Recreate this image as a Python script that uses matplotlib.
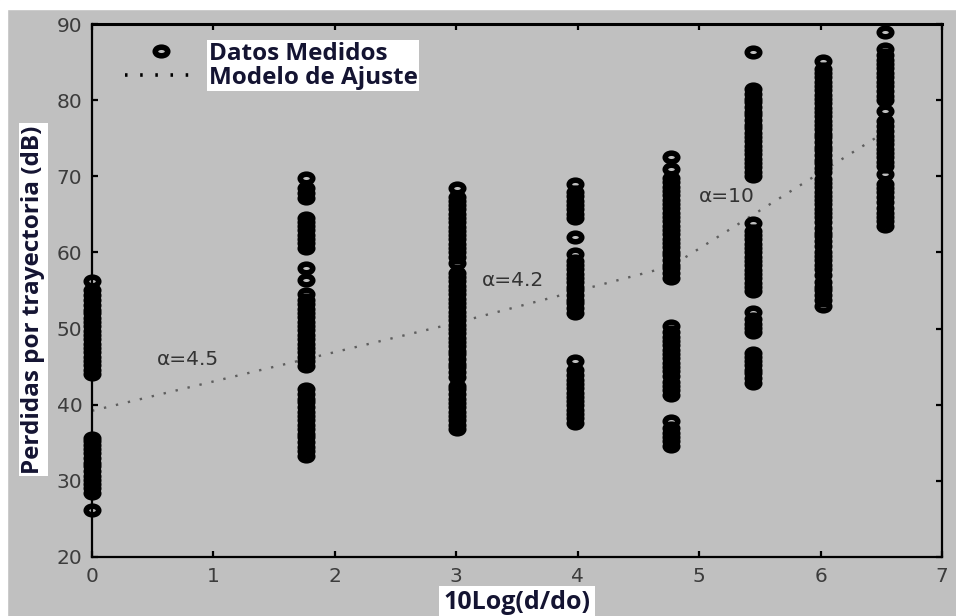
import matplotlib
matplotlib.use('Agg')
import matplotlib.pyplot as plt
from matplotlib.path import Path
from matplotlib.lines import Line2D
from matplotlib.patches import Rectangle
from matplotlib.transforms import Bbox

# distancia normalizada en dB: 10*log10(d/do)
dist_db = [0.0, 1.76, 3.01, 3.98, 4.77, 5.44, 6.02, 6.53]

# perdidas medidas (dB) en cada distancia
loss_d0 = [26.2,
           28.4, 29.0, 29.6, 30.1, 30.7, 31.3, 31.9, 32.4, 33.0, 33.6, 34.2, 34.7, 35.2, 35.6,
           44.0, 44.6, 45.2, 45.7, 46.3, 46.9, 47.4, 48.0, 48.6, 49.1, 49.7, 50.3, 50.8,
           51.4, 52.0, 52.5, 53.1, 53.7, 54.4, 55.0, 56.2]
loss_d1 = [33.3, 33.9, 34.5, 35.1, 35.7, 36.2, 36.8, 37.4, 38.0, 38.5, 39.1, 39.7, 40.3,
           40.8, 41.4, 42.0,
           45.1, 45.7, 46.3, 46.9, 47.4, 48.0, 48.6, 49.2, 49.8, 50.3, 50.9, 51.5, 52.1,
           52.6, 53.2, 53.8, 54.5,
           56.4, 57.9,
           60.6, 61.2, 61.8, 62.3, 62.9, 63.5, 64.0, 64.5,
           67.2, 67.8, 68.4, 69.8]
loss_d2 = [36.8, 37.4, 38.0, 38.5, 39.1, 39.7, 40.2, 40.8, 41.4, 42.0, 42.5, 43.7, 44.3,
           44.9, 45.4, 46.0, 46.6, 47.1, 47.7, 48.3, 48.8, 49.4, 50.0, 50.5, 51.1, 51.7,
           52.2, 52.8, 53.4, 53.9, 54.5, 55.1, 55.6, 56.2, 56.8, 57.3, 58.6, 59.4, 60.0,
           60.6, 61.1, 61.7, 62.3, 62.8, 63.4, 64.0, 64.5, 65.1, 65.7, 66.2, 66.8, 67.3, 68.5]
loss_d3 = [37.6, 38.2, 38.8, 39.3, 39.9, 40.5, 41.0, 41.6, 42.2, 42.7, 43.3, 43.9, 44.5, 45.7,
           52.1, 52.7, 53.3, 53.8, 54.4, 55.0, 55.5, 56.1, 56.7, 57.2, 57.8, 58.4, 58.9, 59.8,
           62.0,
           64.5, 65.1, 65.7, 66.2, 66.8, 67.4, 67.9, 69.0]
loss_d4 = [34.6, 35.2, 35.8, 36.3, 36.9, 37.9,
           41.3, 41.9, 42.5, 43.0, 43.8, 44.4, 45.0, 45.5, 46.1, 46.7, 47.2, 47.8, 48.4,
           48.9, 49.5, 50.4,
           56.7, 57.3, 57.9, 58.4, 59.0, 59.6, 60.1, 60.7, 61.3, 61.8, 62.4, 63.0, 63.5,
           64.1, 64.7, 65.2, 65.8, 66.4, 66.9, 67.5, 68.1, 68.6, 69.2, 69.8, 71.0, 72.5]
loss_d5 = [42.9, 43.5, 44.1, 44.6, 45.2, 45.8, 46.3, 46.8,
           49.5, 50.1, 50.6, 51.2, 52.2,
           54.9, 55.5, 56.0, 56.6, 57.2, 57.7, 58.3, 58.9, 59.4, 60.0, 60.6, 61.1, 61.7,
           62.3, 62.8, 63.9,
           70.0, 70.6, 71.2, 71.7, 72.3, 72.9, 73.4, 74.0, 74.6, 75.1, 75.7, 76.3, 76.8,
           77.4, 78.0, 78.5, 79.1, 79.7, 80.2, 80.8, 81.4,
           86.3]
loss_d6 = [53.0, 53.8, 54.4, 55.0, 55.5, 56.1, 57.0, 57.8, 58.4, 59.0, 59.5, 60.1, 60.9,
           61.5, 62.1, 62.6, 63.2, 64.0, 64.6, 65.2, 65.7, 66.3, 66.9, 67.4, 68.0, 68.6,
           69.1, 69.7, 70.5, 71.1, 71.7, 72.2, 72.8, 73.4, 73.9, 74.5, 75.1, 75.6, 76.2,
           76.8, 77.3, 77.9, 78.5, 79.0, 79.6, 80.2, 80.7, 81.3, 81.9, 82.4, 83.0, 83.6,
           84.1, 85.1]
loss_d7 = [63.5, 64.1, 64.7, 65.2, 65.8, 66.6, 67.3, 67.9, 68.5, 69.0, 70.3, 71.3, 71.9,
           72.5, 73.0, 73.6, 74.2, 74.7, 75.3, 76.0, 76.6, 77.2, 78.6, 80.0, 80.6, 81.2,
           81.8, 82.4, 83.0, 83.6, 84.2, 84.7, 85.3, 85.9, 86.7, 88.9]
loss_by_dist = [loss_d0, loss_d1, loss_d2, loss_d3, loss_d4, loss_d5, loss_d6, loss_d7]

# modelo de ajuste por tramos
fit_x = [0.0, 3.01, 4.77, 6.53]
fit_y = [39.2, 50.8, 58.2, 75.8]
alpha_labels = ['α=4.5', 'α=4.2', 'α=10']
alpha_x = [0.79, 3.47, 5.23]
alpha_y = [46.0, 56.3, 67.4]

legend_labels = ['Datos Medidos', 'Modelo de Ajuste']

bg = '#c0c0c0'
ink = '#141432'
bold_font = 'Open Sans'

# marcador ovalado (circulo abierto algo achatado)
circ = Path.unit_circle()
ring = Path(circ.vertices * [1.0, 0.69], circ.codes)
mkw = dict(linestyle='none', marker=ring, ms=9.0, mew=4.0, mec='black', mfc='none')

fig = plt.figure(figsize=(9.56, 6.16), dpi=100, facecolor=bg)
ax = fig.add_axes([92 / 956, 59 / 616, 850 / 956, 533 / 616])
ax.set_facecolor(bg)

# bordes blancos del recorte
fig.patches.append(Rectangle((0, 0), 7 / 956, 1, transform=fig.transFigure,
                             color='white', zorder=-1))
fig.patches.append(Rectangle((0, 1 - 9 / 616), 1, 9 / 616, transform=fig.transFigure,
                             color='white', zorder=-1))

for x, vals in zip(dist_db, loss_by_dist):
    ax.plot([x] * len(vals), vals, clip_on=False, zorder=3, **mkw)

ax.plot(fit_x, fit_y, color='#5e5e5e', lw=1.7, linestyle=(0, (1, 4.2)), zorder=2)

for txt, tx, ty in zip(alpha_labels, alpha_x, alpha_y):
    ax.text(tx, ty, txt, ha='center', va='center', fontsize=14.5, color='#333333', zorder=4)

ax.set_xlim(0, 7)
ax.set_ylim(20, 90)
ax.set_xticks(range(0, 8))
ax.set_yticks(range(20, 91, 10))
ax.tick_params(direction='in', length=4.5, width=1.6, top=True, right=True,
               labelsize=14.5, labelcolor='#3c3c3c', pad=7)
for side in ax.spines.values():
    side.set_linewidth(1.6)
ax.spines['top'].set_linewidth(2.2)

ax.set_ylabel('Perdidas por trayectoria (dB)', va='center', family=bold_font, weight='bold',
              size=17.5, color=ink, bbox=dict(facecolor='white', edgecolor='none', pad=2))
ax.yaxis.set_label_coords(-0.069, 0.483)
ax.set_xlabel('10Log(d/do)', va='baseline', family=bold_font, weight='bold',
              size=18, color=ink, bbox=dict(facecolor='white', edgecolor='none', pad=3))
ax.xaxis.set_label_coords(0.5, -0.0975)

handles = [Line2D([], [], **mkw),
           Line2D([], [], color='black', lw=2.6, linestyle=(0, (0.7, 3.5)))]
leg = ax.legend(handles, legend_labels, loc='upper left', bbox_to_anchor=(0.0388, 0.967),
                frameon=False, handlelength=3.0, handletextpad=0.45, borderpad=0,
                borderaxespad=0, labelspacing=0.0,
                prop=dict(family=bold_font, weight='bold', size=17.5))
for t in leg.get_texts():
    t.set_color(ink)

# fondo blanco comun detras de los textos de la leyenda
fig.canvas.draw()
box = Bbox.union([t.get_window_extent() for t in leg.get_texts()])
box = box.padded(1.5)
box = box.transformed(ax.transAxes.inverted())
ax.add_patch(Rectangle((box.x0, box.y0), box.width, box.height, transform=ax.transAxes,
                       facecolor='white', edgecolor='none', zorder=4.5, clip_on=False))

fig.savefig('out.png', dpi=100, facecolor=bg)
